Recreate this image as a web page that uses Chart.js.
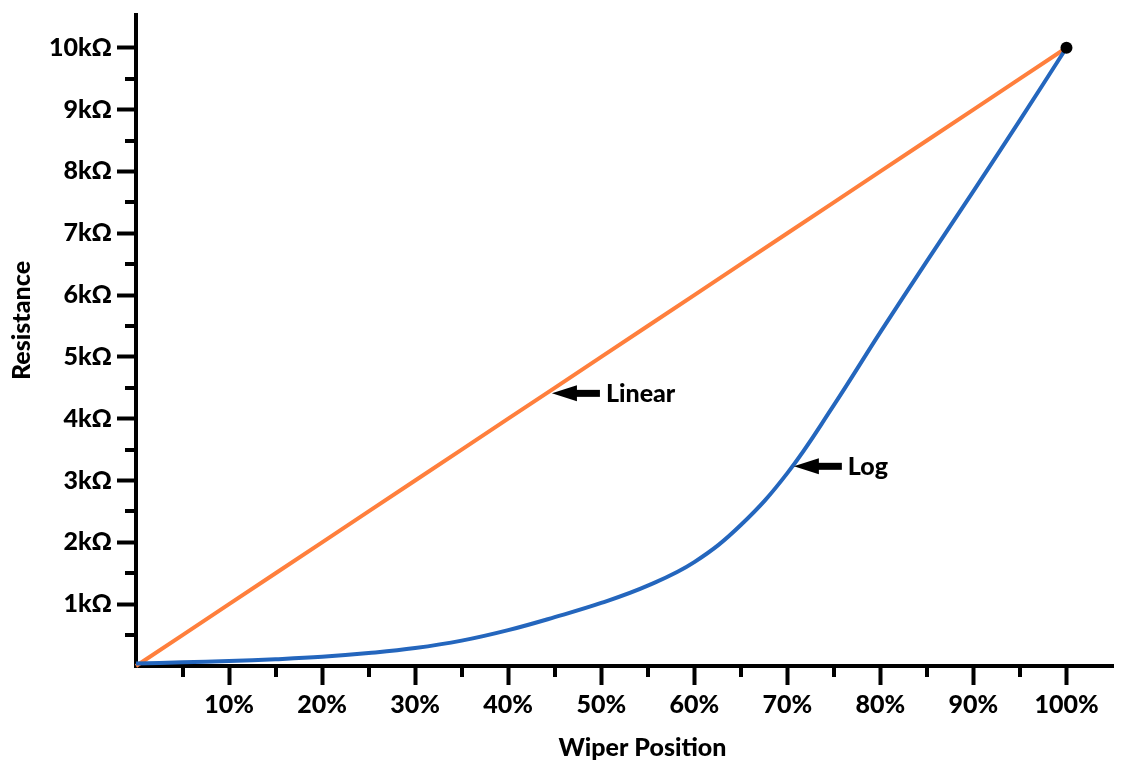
<!DOCTYPE html>
<html>
<head>
<meta charset="utf-8">
<script src="https://cdn.jsdelivr.net/npm/chart.js@4.4.1/dist/chart.umd.min.js"></script>
<style>
  html, body { margin: 0; padding: 0; background: #ffffff; }
  #wrap { width: 1128px; height: 772px; }
</style>
</head>
<body>
<div id="wrap"><canvas id="c" width="1128" height="772"></canvas></div>
<script>
// ---- data ----
const wiperPositions = [0, 5, 10, 15, 20, 25, 30, 35, 40, 45, 50, 55, 60, 65, 70, 75, 80, 85, 90, 95, 100];
const linearValues   = [0, 0.5, 1, 1.5, 2, 2.5, 3, 3.5, 4, 4.5, 5, 5.5, 6, 6.5, 7, 7.5, 8, 8.5, 9, 9.5, 10];
const logValues      = [0.04, 0.06, 0.08, 0.11, 0.15, 0.21, 0.29, 0.41, 0.58, 0.79, 1.02, 1.3, 1.68, 2.28, 3.12, 4.22, 5.4, 6.55, 7.68, 8.83, 10];
const endPoint       = [100, 10];
const xMajorTicks = [10, 20, 30, 40, 50, 60, 70, 80, 90, 100];
const xMinorTicks = [5, 15, 25, 35, 45, 55, 65, 75, 85, 95];
const yMajorTicks = [1, 2, 3, 4, 5, 6, 7, 8, 9, 10];
const yMinorTicks = [0.5, 1.5, 2.5, 3.5, 4.5, 5.5, 6.5, 7.5, 8.5, 9.5];
const noteLabels = ['Linear', 'Log'];
const noteX = [44.7, 70.7];
const noteY = [4.41, 3.23];
const xTitle = 'Wiper Position';
const yTitle = 'Resistance';

const FONT = 'Lato, "Open Sans", sans-serif';
const FONT_SIZE = 25;
const FONT_WEIGHT = '900';

const toXY = (vals) => wiperPositions.map((x, i) => ({ x: x, y: vals[i] }));

const extras = {
  id: 'extras',
  afterDraw(chart) {
    const ctx = chart.ctx;
    const xs = chart.scales.x, ys = chart.scales.y;
    const ca = chart.chartArea;
    ctx.save();
    // minor ticks
    ctx.strokeStyle = '#000';
    ctx.lineWidth = 4;
    ctx.lineCap = 'butt';
    xMinorTicks.forEach(v => {
      const px = Math.round(xs.getPixelForValue(v));
      ctx.beginPath();
      ctx.moveTo(px, ca.bottom);
      ctx.lineTo(px, ca.bottom + 11);
      ctx.stroke();
    });
    yMinorTicks.forEach(v => {
      const py = Math.round(ys.getPixelForValue(v));
      ctx.beginPath();
      ctx.moveTo(ca.left, py);
      ctx.lineTo(ca.left - 11, py);
      ctx.stroke();
    });
    // annotations
    ctx.fillStyle = '#000';
    noteLabels.forEach((t, i) => {
      const tx = xs.getPixelForValue(noteX[i]);
      const ty = ys.getPixelForValue(noteY[i]);
      ctx.beginPath();
      ctx.moveTo(tx, ty);
      ctx.lineTo(tx + 25, ty - 8);
      ctx.lineTo(tx + 25, ty + 8);
      ctx.closePath();
      ctx.fill();
      ctx.fillRect(tx + 24, ty - 3.5, 24, 7);
      ctx.font = FONT_WEIGHT + ' ' + FONT_SIZE + 'px ' + FONT;
      ctx.textBaseline = 'middle';
      ctx.textAlign = 'left';
      ctx.fillText(t, tx + 54, ty + 1);
    });
    // axis titles
    ctx.font = FONT_WEIGHT + ' ' + FONT_SIZE + 'px ' + FONT;
    ctx.textAlign = 'center';
    ctx.textBaseline = 'middle';
    ctx.fillText(xTitle, (ca.left + ca.right) / 2 + 18, 748);
    ctx.translate(22, (ca.top + ca.bottom) / 2 - 20);
    ctx.rotate(-Math.PI / 2);
    ctx.fillText(yTitle, 0, 0);
    ctx.restore();
  }
};

new Chart(document.getElementById('c'), {
  type: 'line',
  data: {
    datasets: [
      {
        label: 'Endpoint',
        data: [{ x: endPoint[0], y: endPoint[1] }],
        showLine: false,
        pointRadius: 6,
        pointBackgroundColor: '#000',
        pointBorderWidth: 0,
        order: 0
      },
      {
        label: 'Log',
        data: toXY(logValues),
        borderColor: '#2466bd',
        borderWidth: 4,
        pointRadius: 0,
        tension: 0.4,
        fill: false,
        order: 1
      },
      {
        label: 'Linear',
        data: toXY(linearValues),
        borderColor: '#ff7f3c',
        borderWidth: 4,
        pointRadius: 0,
        fill: false,
        order: 2
      }
    ]
  },
  options: {
    responsive: false,
    animation: false,
    clip: false,
    layout: { padding: { top: 10, right: 15, left: 0, bottom: 0 } },
    plugins: { legend: { display: false }, tooltip: { enabled: false } },
    scales: {
      x: {
        type: 'linear',
        min: 0,
        max: 105,
        afterFit(s) { s.height = 106; },
        afterBuildTicks(s) { s.ticks = xMajorTicks.map(v => ({ value: v })); },
        grid: { drawOnChartArea: false, drawTicks: true, tickLength: 19, tickWidth: 4, tickColor: '#000', color: '#000' },
        border: { display: true, color: '#000', width: 4 },
        ticks: {
          color: '#000',
          font: { family: FONT, size: FONT_SIZE, weight: FONT_WEIGHT },
          padding: 5,
          maxRotation: 0,
          callback: (v) => v + '%'
        }
      },
      y: {
        type: 'linear',
        min: 0,
        max: 10.53,
        afterFit(s) { s.width = 136; },
        afterBuildTicks(s) { s.ticks = yMajorTicks.map(v => ({ value: v })); },
        grid: { drawOnChartArea: false, drawTicks: true, tickLength: 19, tickWidth: 4, tickColor: '#000', color: '#000' },
        border: { display: true, color: '#000', width: 4 },
        ticks: {
          color: '#000',
          font: { family: FONT, size: FONT_SIZE, weight: FONT_WEIGHT, lineHeight: 0.8 },
          padding: 5,
          callback: (v) => v + 'kΩ'
        }
      }
    }
  },
  plugins: [extras]
});
</script>
</body>
</html>
